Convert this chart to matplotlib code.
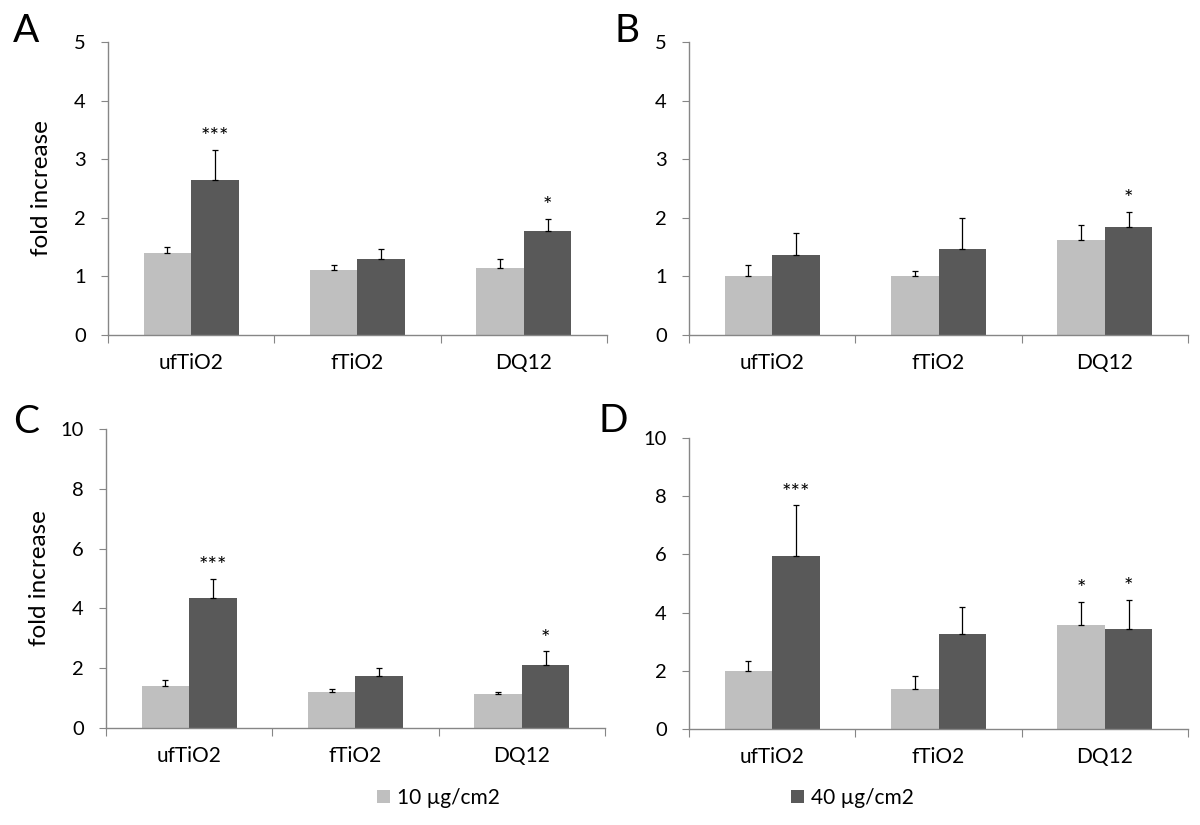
import matplotlib
matplotlib.use('Agg')
import numpy as np
import matplotlib.pyplot as plt
from matplotlib.patches import Patch

plt.rcParams['font.family'] = ['Lato', 'DejaVu Sans']

categories = ['ufTiO2', 'fTiO2', 'DQ12']
doses = ['10 µg/cm2', '40 µg/cm2']

# panel A
a_low = [1.40, 1.11, 1.15]
a_low_err = [0.11, 0.09, 0.14]
a_high = [2.65, 1.30, 1.78]
a_high_err = [0.51, 0.16, 0.20]
a_stars_low = ['', '', '']
a_stars_high = ['***', '', '*']

# panel B
b_low = [1.00, 1.00, 1.62]
b_low_err = [0.20, 0.09, 0.25]
b_high = [1.36, 1.46, 1.85]
b_high_err = [0.38, 0.53, 0.25]
b_stars_low = ['', '', '']
b_stars_high = ['', '', '*']

# panel C
c_low = [1.42, 1.22, 1.12]
c_low_err = [0.20, 0.10, 0.09]
c_high = [4.34, 1.74, 2.09]
c_high_err = [0.64, 0.28, 0.47]
c_stars_low = ['', '', '']
c_stars_high = ['***', '', '*']

# panel D
d_low = [2.00, 1.38, 3.57]
d_low_err = [0.32, 0.44, 0.79]
d_high = [5.96, 3.25, 3.42]
d_high_err = [1.72, 0.95, 1.02]
d_stars_low = ['', '', '*']
d_stars_high = ['***', '', '*']

light = '#BFBFBF'
dark = '#595959'
spine_color = '#868686'


def draw_panel(ax, low, low_err, high, high_err, stars_low, stars_high, ymax, ystep, ylabel):
    x = np.arange(len(categories))
    w = 1 / 3.5
    ekw = dict(ecolor='black', elinewidth=0.9, capsize=2, capthick=0.9)
    ax.bar(x - w / 2, low, w, color=light, yerr=[np.zeros(len(low)), low_err], error_kw=ekw)
    ax.bar(x + w / 2, high, w, color=dark, yerr=[np.zeros(len(high)), high_err], error_kw=ekw)

    for i in range(len(categories)):
        if stars_low[i]:
            ax.annotate(stars_low[i], (x[i] - w / 2, low[i] + low_err[i]), xytext=(0, 2),
                        textcoords='offset points', ha='center', va='bottom', fontsize=16)
        if stars_high[i]:
            ax.annotate(stars_high[i], (x[i] + w / 2, high[i] + high_err[i]), xytext=(0, 2),
                        textcoords='offset points', ha='center', va='bottom', fontsize=16)

    ax.set_xlim(-0.5, 2.5)
    ax.set_ylim(0, ymax)
    ax.set_yticks(np.arange(0, ymax + 1, ystep))
    ax.set_xticks([-0.5, 0.5, 1.5, 2.5])
    ax.set_xticklabels([])
    ax.set_xticks(x, minor=True)
    ax.set_xticklabels(categories, minor=True, fontsize=15)
    ax.tick_params(axis='x', which='major', length=6, color=spine_color, direction='out')
    ax.tick_params(axis='x', which='minor', length=0, pad=13)
    ax.tick_params(axis='y', length=5, color=spine_color, pad=11, labelsize=14.5)

    for s in ['top', 'right']:
        ax.spines[s].set_visible(False)
    for s in ['left', 'bottom']:
        ax.spines[s].set_color(spine_color)
        ax.spines[s].set_linewidth(1)

    if ylabel:
        ax.set_ylabel(ylabel, fontsize=17.5)
        ax.yaxis.set_label_coords(-0.112, 0.5)


fig = plt.figure(figsize=(12, 8.25), dpi=100)

ax_a = fig.add_axes([0.09, 0.5939, 0.4158, 0.3552])
ax_b = fig.add_axes([0.5742, 0.5939, 0.4158, 0.3552])
ax_c = fig.add_axes([0.0883, 0.1176, 0.4158, 0.3624])
ax_d = fig.add_axes([0.5742, 0.1164, 0.4158, 0.3527])

draw_panel(ax_a, a_low, a_low_err, a_high, a_high_err, a_stars_low, a_stars_high, 5, 1, 'fold increase')
draw_panel(ax_b, b_low, b_low_err, b_high, b_high_err, b_stars_low, b_stars_high, 5, 1, None)
draw_panel(ax_c, c_low, c_low_err, c_high, c_high_err, c_stars_low, c_stars_high, 10, 2, 'fold increase')
draw_panel(ax_d, d_low, d_low_err, d_high, d_high_err, d_stars_low, d_stars_high, 10, 2, None)

fig.text(13 / 1200, 1 - 42 / 825, 'A', fontsize=28, ha='left', va='baseline')
fig.text(615 / 1200, 1 - 42 / 825, 'B', fontsize=28, ha='left', va='baseline')
fig.text(13 / 1200, 1 - 433 / 825, 'C', fontsize=28, ha='left', va='baseline')
fig.text(598 / 1200, 1 - 432 / 825, 'D', fontsize=28, ha='left', va='baseline')

leg_opts = dict(frameon=False, fontsize=15, handlelength=0.62, handleheight=0.62,
                handletextpad=0.35, borderpad=0, borderaxespad=0, loc='center left')
fig.legend([Patch(facecolor=light)], [doses[0]], bbox_to_anchor=(377 / 1200, 1 - 798 / 825), **leg_opts)
fig.legend([Patch(facecolor=dark)], [doses[1]], bbox_to_anchor=(791 / 1200, 1 - 798 / 825), **leg_opts)

fig.savefig('out.png', dpi=100)
